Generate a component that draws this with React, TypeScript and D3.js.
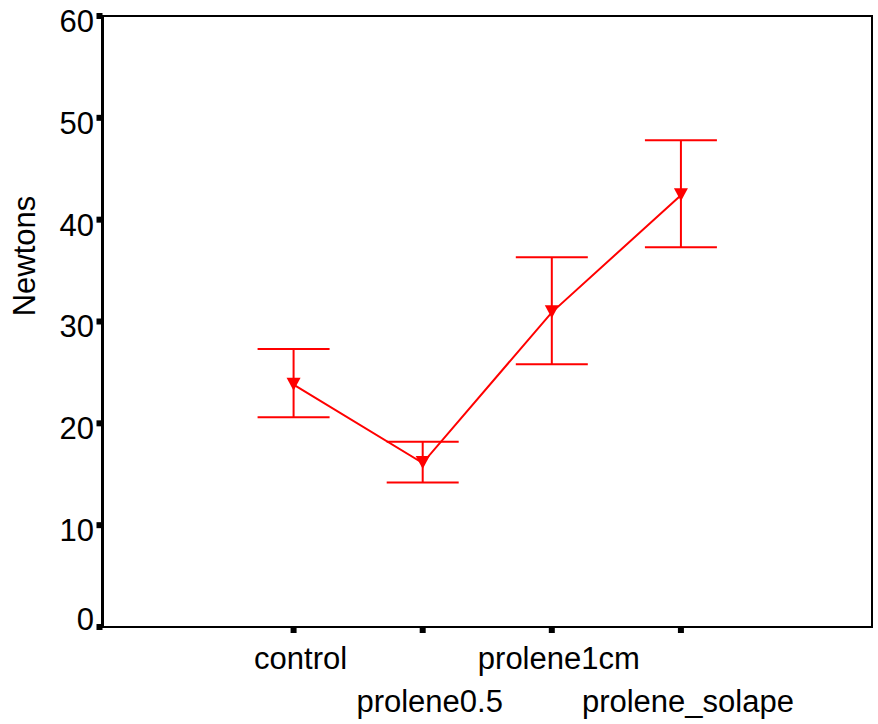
import React, { useRef, useEffect } from 'react';
import * as d3 from 'd3';

const groups = ['control', 'prolene0.5', 'prolene1cm', 'prolene_solape'];
const means = [23.8, 16.1, 30.9, 42.4];
const upper = [27.3, 18.2, 36.3, 47.8];
const lower = [20.6, 14.2, 25.8, 37.3];
const yTicks = [0, 10, 20, 30, 40, 50, 60];

const App = () => {
  const ref = useRef<SVGSVGElement>(null);

  useEffect(() => {
    const width = 878;
    const height = 724;
    const left = 102.5;
    const right = 872;
    const top = 16;
    const bottom = 627;
    const font = 'Liberation Sans, Arial, sans-serif';
    const red = '#ff0000';
    const fs = 31;

    const svg = d3.select(ref.current)
      .attr('width', width)
      .attr('height', height)
      .attr('viewBox', [0, 0, width, height].join(' '));
    svg.selectAll('*').remove();

    const x = d3.scalePoint<string>()
      .domain(groups)
      .range([left, right])
      .padding(1.48);

    const y = d3.scaleLinear()
      .domain([0, 60])
      .range([bottom, top]);

    // frame
    svg.append('rect')
      .attr('x', left)
      .attr('y', top)
      .attr('width', right - left)
      .attr('height', bottom - top)
      .attr('fill', 'none')
      .attr('stroke', '#000')
      .attr('stroke-width', 2);
    svg.append('line')
      .attr('x1', left).attr('x2', left)
      .attr('y1', top).attr('y2', bottom + 1)
      .attr('stroke', '#000').attr('stroke-width', 3);

    // y ticks
    const yg = svg.append('g');
    yg.selectAll('rect')
      .data(yTicks)
      .join('rect')
      .attr('x', left - 6)
      .attr('y', d => y(d) - 3)
      .attr('width', 6)
      .attr('height', 6)
      .attr('fill', '#000');
    yg.selectAll('text')
      .data(yTicks)
      .join('text')
      .attr('x', 94)
      .attr('y', d => y(d) + (d === 0 ? -8 : 5))
      .attr('dy', '0.35em')
      .attr('text-anchor', 'end')
      .attr('font-family', font)
      .attr('font-size', fs)
      .text(d => d);

    // x ticks
    const xg = svg.append('g');
    xg.selectAll('rect')
      .data(groups)
      .join('rect')
      .attr('x', d => x(d)! - 3)
      .attr('y', bottom)
      .attr('width', 6)
      .attr('height', 6)
      .attr('fill', '#000');
    xg.selectAll('text')
      .data(groups)
      .join('text')
      .attr('x', d => x(d)! + 7)
      .attr('y', (d, i) => (i % 2 === 0 ? 669 : 712))
      .attr('text-anchor', 'middle')
      .attr('font-family', font)
      .attr('font-size', fs)
      .text(d => d);

    // y axis title
    svg.append('text')
      .attr('transform', 'translate(35,256) rotate(-90)')
      .attr('text-anchor', 'middle')
      .attr('font-family', font)
      .attr('font-size', fs)
      .text('Newtons');

    const data = groups.map((g, i) => ({ g, m: means[i], hi: upper[i], lo: lower[i] }));

    // error bars
    const eb = svg.append('g').attr('stroke', red).attr('stroke-width', 2).attr('fill', 'none');
    const capW = 36;
    data.forEach(d => {
      const cx = x(d.g)!;
      eb.append('line').attr('x1', cx).attr('x2', cx).attr('y1', y(d.hi)).attr('y2', y(d.lo));
      eb.append('line').attr('x1', cx - capW).attr('x2', cx + capW).attr('y1', y(d.hi)).attr('y2', y(d.hi));
      eb.append('line').attr('x1', cx - capW).attr('x2', cx + capW).attr('y1', y(d.lo)).attr('y2', y(d.lo));
    });

    // mean line
    const line = d3.line<typeof data[number]>()
      .x(d => x(d.g)!)
      .y(d => y(d.m));
    svg.append('path')
      .datum(data)
      .attr('d', line)
      .attr('fill', 'none')
      .attr('stroke', red)
      .attr('stroke-width', 2);

    // markers (down triangles)
    svg.append('g')
      .selectAll('path')
      .data(data)
      .join('path')
      .attr('transform', d => `translate(${x(d.g)},${y(d.m)})`)
      .attr('d', 'M-7,-7L7,-7L0,6Z')
      .attr('fill', red);
  }, []);

  return (
    <svg ref={ref} style={{ position: 'absolute', left: 0, top: 0, display: 'block', background: '#fff' }} />
  );
};

export default App;
